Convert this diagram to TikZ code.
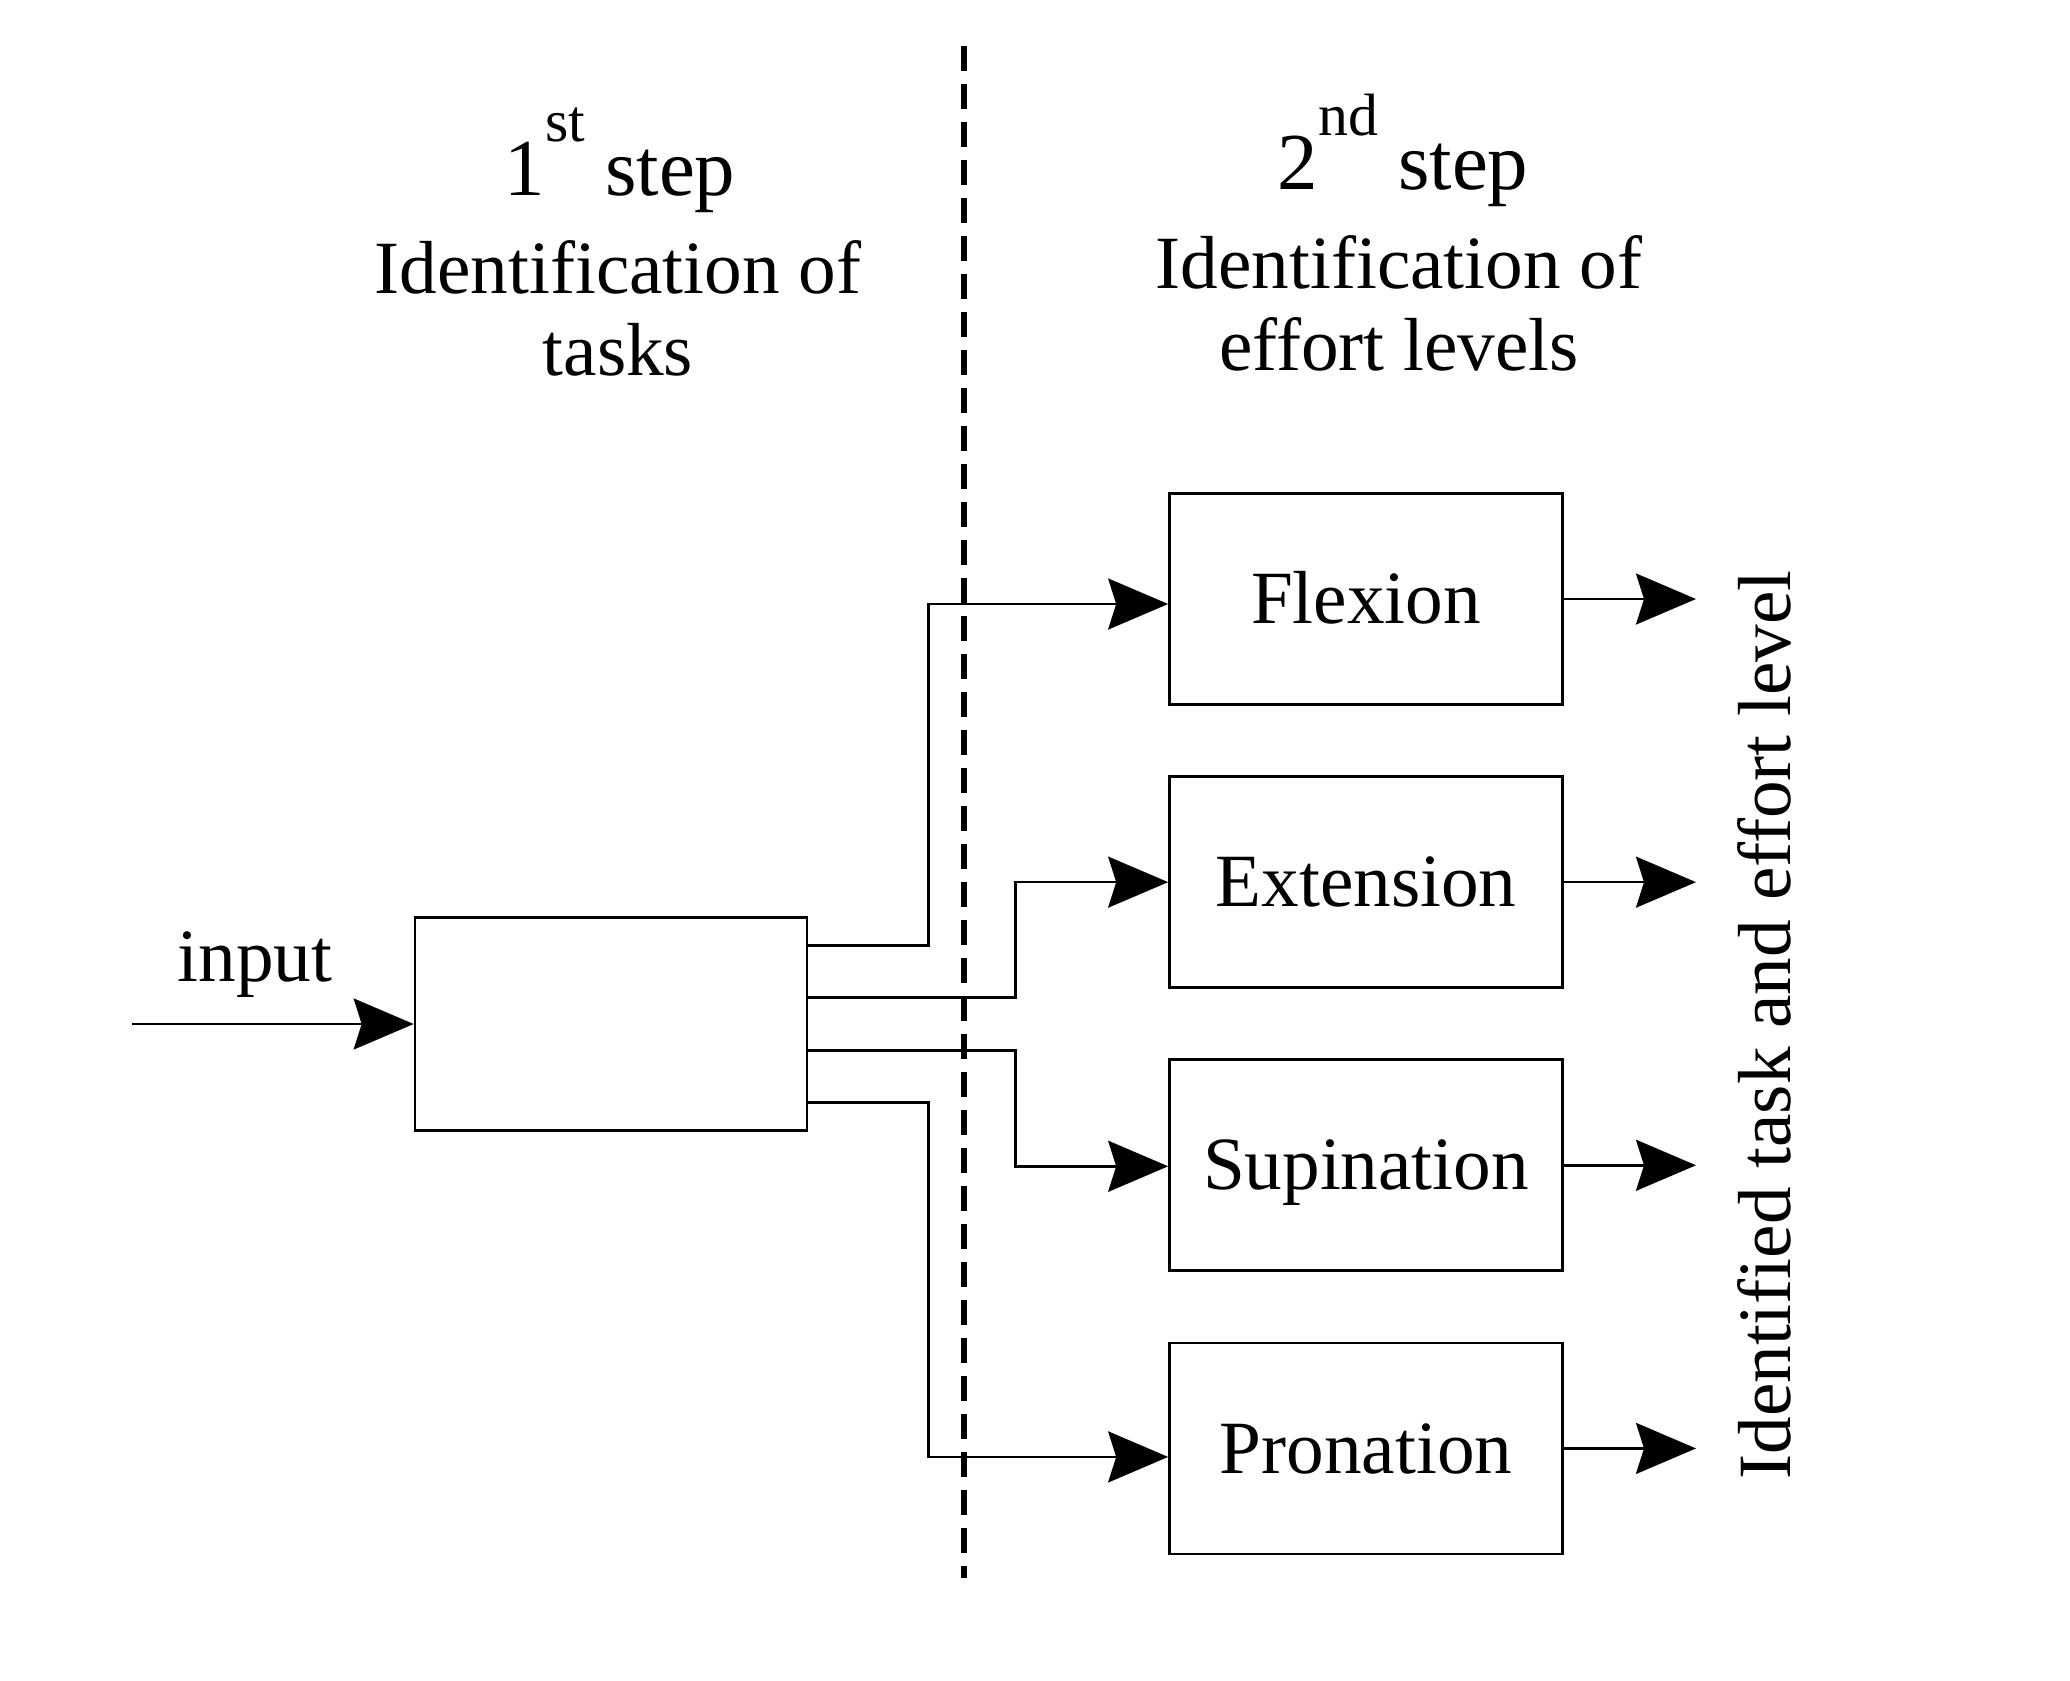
\documentclass[tikz,border=0pt]{standalone}
\usepackage{fontspec}
\setmainfont{Liberation Serif}
\usetikzlibrary{arrows.meta,calc,positioning}

\newcommand{\ordsup}[1]{\raisebox{5.4mm}{\fontsize{17}{17}\selectfont #1}}

\begin{document}
\begin{tikzpicture}[x=1mm, y=1mm,
    box/.style={draw, line width=0.75pt, inner sep=0pt, minimum width=39.3mm, minimum height=21.1mm,
                text height=14pt, text depth=0pt, font=\fontsize{21.4}{25}\selectfont},
    arr/.style={line width=0.75pt, -{Stealth[length=6mm, width=5.1mm, inset=0.8mm]}},
    lbl/.style={font=\fontsize{21.4}{25}\selectfont, inner sep=0pt, anchor=base},
    steplbl/.style={font=\fontsize{23}{27}\selectfont, inner sep=0pt, anchor=base}]
\useasboundingbox (0,0) rectangle (207,-168);
% TITLES
\node[steplbl] (step1) at (62.0,-19.5) {1\ordsup{st} step};
\node[lbl] (title1a) at (61.8,-29.3) {Identification of};
\node[lbl] (title1b) at (61.8,-37.5) {tasks};
\node[steplbl] (step2) at (140.3,-18.9) {2\ordsup{nd} step};
\node[lbl] (title2a) at (139.9,-28.8) {Identification of};
\node[lbl] (title2b) at (139.9,-37.0) {effort levels};
% DIVIDER
\draw[line width=1.5pt, dash pattern=on 2.47mm off 1.33mm] (96.4,-4.6) -- (96.4,-157.8);
% FIRST STEP: task classifier
\node[box, minimum width=39.2mm, minimum height=21.25mm] (clf) at (61.1,-102.4) {};
\coordinate (src) at (13.2,-102.4);
\draw[arr] (src) -- (clf.west);
\node[lbl] (inlbl) at (25.5,-98.1) {input};
% SECOND STEP: effort level per task
\node[box] (flex) at (136.6,-59.9) {Flexion};
\node[box, below=6.95mm of flex] (ext) {Extension};
\node[box, below=6.95mm of ext] (sup) {Supination};
\node[box, below=6.95mm of sup] (pro) {Pronation};
% CONNECTORS
\draw[arr] ($(clf.east)+(0,7.85)$) -- ++(12,0) |- ($(flex.west)+(0,-0.5)$);
\draw[arr] ($(clf.east)+(0,2.65)$) -- ++(20.7,0) |- (ext.west);
\draw[arr] ($(clf.east)+(0,-2.65)$) -- ++(20.7,0) |- ($(sup.west)+(0,-0.1)$);
\draw[arr] ($(clf.east)+(0,-7.85)$) -- ++(12,0) |- ($(pro.west)+(0,-0.85)$);
% OUTPUTS
\coordinate (outx) at (169.6,0);
\foreach \b in {flex,ext,sup,pro}
    \draw[arr] (\b.east) -- (\b.east -| outx);
\node[lbl, rotate=90] (outlbl) at (179.0,-102.5) {Identified task and effort level};
\end{tikzpicture}
\end{document}
